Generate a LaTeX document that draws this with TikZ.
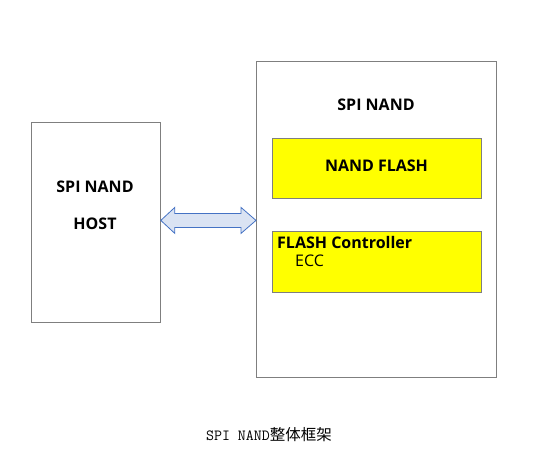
\documentclass[tikz,border=0pt]{standalone}
\usepackage{fontspec}
\setmainfont{Open Sans}
\newfontfamily\cjk{Noto Sans CJK SC}
\usetikzlibrary{calc}
\definecolor{boxline}{HTML}{7F7F7F}
\definecolor{arrowfill}{HTML}{DAE3F3}
\definecolor{arrowline}{HTML}{4472C4}
\definecolor{boxyellow}{HTML}{FFFF00}
\tikzset{
  outerbox/.style={draw=boxline, line width=0.8pt, fill=white, anchor=north west, inner sep=0pt},
  yellowbox/.style={draw=boxline, line width=0.8pt, fill=boxyellow, anchor=north west, inner sep=0pt},
  lbl/.style={font=\fontsize{16}{18}\selectfont\bfseries, inner sep=0pt},
}
\begin{document}
\begin{tikzpicture}[x=1pt,y=-1pt]
\useasboundingbox (0,0) rectangle (535,471);
\node[outerbox, minimum width=129pt, minimum height=200pt] (host) at (31,122) {};
\node[lbl] (hostt1) at (95,187) {SPI NAND};
\node[lbl] (hostt2) at (95,224) {HOST};
\node[outerbox, minimum width=240pt, minimum height=316pt] (spi) at (256,61) {};
\node[lbl] (spit) at (376,105) {SPI NAND};
\node[yellowbox, minimum width=209pt, minimum height=60pt] (flash) at (272,138) {};
\node[lbl] (flasht) at (376.5,166) {NAND FLASH};
\node[yellowbox, minimum width=209pt, minimum height=61pt] (ctrl) at (272,231) {};
\node[lbl, anchor=west] (ctrlt) at (277,242) {FLASH Controller};
\node[font=\fontsize{16}{18}\selectfont, inner sep=0pt, anchor=west] (ecc) at (295,261) {ECC};
% double arrow
\coordinate (L) at ($(host.east)+(0,-2)$);
\coordinate (R) at ($(spi.west |- L)$);
\draw[draw=arrowline, fill=arrowfill, line width=0.8pt, line join=miter]
  (L) -- ++(14,-13) -- ++(0,6) -- ($(R)+(-15,-7)$) -- ++(0,-6) -- (R)
  -- ++(-15,13) -- ++(0,-6) -- ($(L)+(14,7)$) -- ++(0,6) -- cycle;
\node[font=\fontsize{15.5}{17}\selectfont, inner sep=0pt] (cap) at (269,435) {\ttfamily SPI NAND\cjk 整体框架};
\end{tikzpicture}
\end{document}
